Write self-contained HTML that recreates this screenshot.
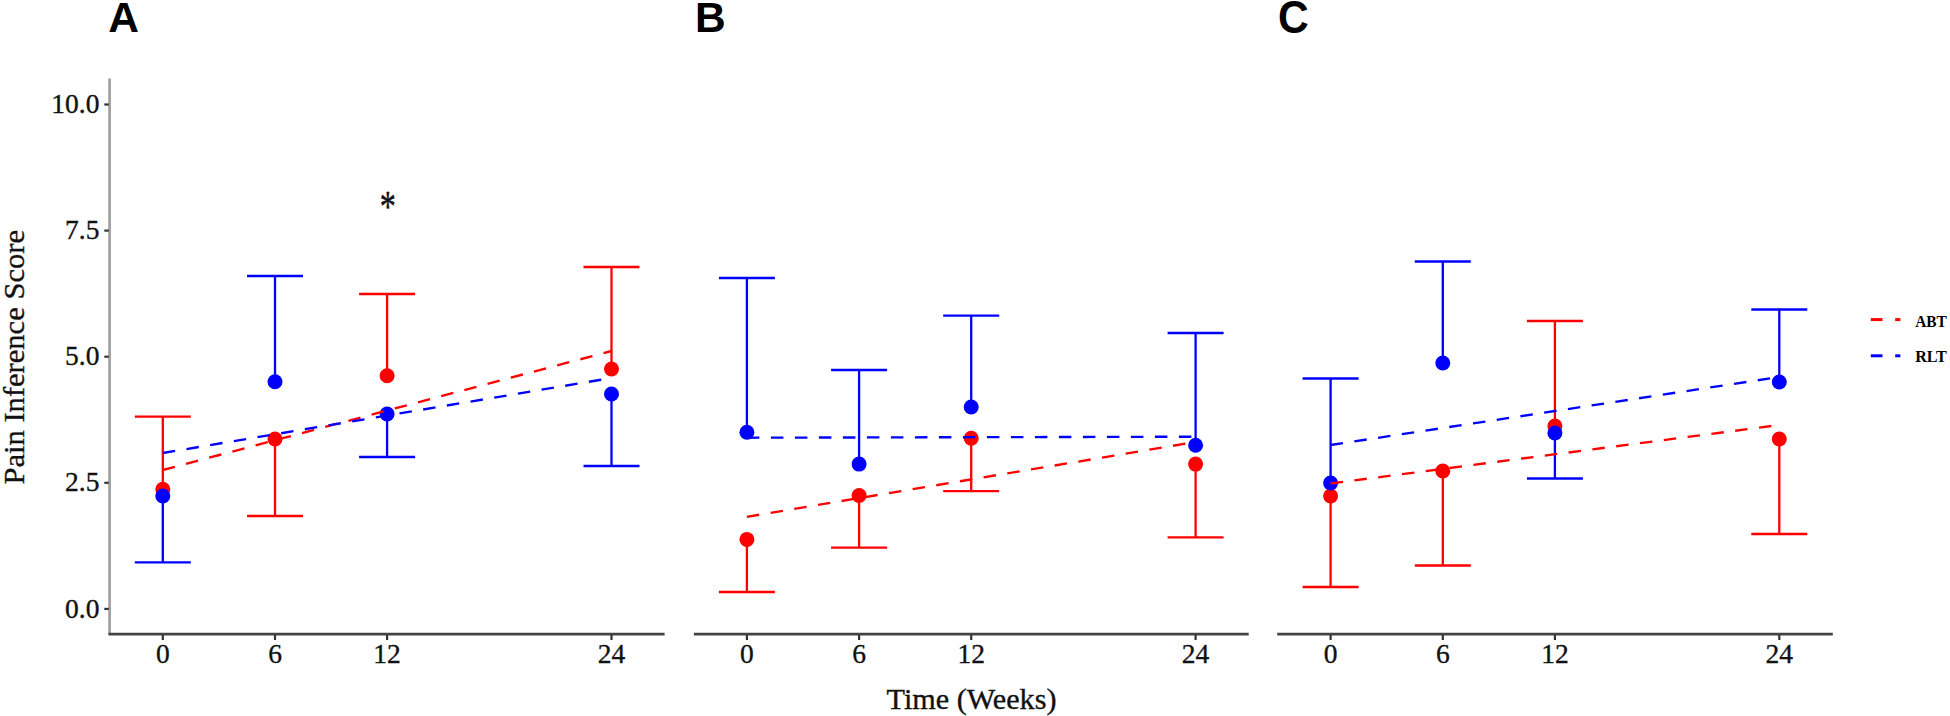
<!DOCTYPE html>
<html lang="en"><head><meta charset="utf-8"><title>Pain Inference Score</title>
<style>
html,body{margin:0;padding:0;background:#fff;}
body{width:1950px;height:716px;overflow:hidden;}
svg{display:block;}
.tk{font-family:"Liberation Serif",serif;font-size:27.5px;fill:#111;stroke:#111;stroke-width:0.35px;}
.lab{font-family:"Liberation Serif",serif;font-size:29.4px;fill:#111;stroke:#111;stroke-width:0.35px;}
.ast{font-family:"Liberation Serif",serif;font-size:31px;fill:#111;stroke:#111;stroke-width:0.35px;}
.ttl{font-family:"Liberation Sans",sans-serif;font-weight:bold;font-size:42.5px;fill:#000;}
.leg{font-family:"Liberation Serif",serif;font-weight:bold;font-size:17.6px;fill:#000;}
</style></head><body>
<svg width="1950" height="716" viewBox="0 0 1950 716">
<rect width="1950" height="716" fill="#fff"/>
<line x1="109.6" y1="78.6" x2="109.6" y2="635" stroke="#a2a2a2" stroke-width="2.8"/>
<line x1="104.3" y1="608.9" x2="108.8" y2="608.9" stroke="#333" stroke-width="2.2"/>
<text x="99.4" y="617.5" text-anchor="end" class="tk">0.0</text>
<line x1="104.3" y1="482.8" x2="108.8" y2="482.8" stroke="#333" stroke-width="2.2"/>
<text x="99.4" y="491.4" text-anchor="end" class="tk">2.5</text>
<line x1="104.3" y1="356.7" x2="108.8" y2="356.7" stroke="#333" stroke-width="2.2"/>
<text x="99.4" y="365.3" text-anchor="end" class="tk">5.0</text>
<line x1="104.3" y1="230.6" x2="108.8" y2="230.6" stroke="#333" stroke-width="2.2"/>
<text x="99.4" y="239.2" text-anchor="end" class="tk">7.5</text>
<line x1="104.3" y1="104.5" x2="108.8" y2="104.5" stroke="#333" stroke-width="2.2"/>
<text x="99.4" y="113.1" text-anchor="end" class="tk">10.0</text>
<line x1="108.5" y1="634.1" x2="664.6" y2="634.1" stroke="#444" stroke-width="2.6"/>
<line x1="162.8" y1="635" x2="162.8" y2="640" stroke="#333" stroke-width="2.2"/>
<text x="162.8" y="662.8" text-anchor="middle" class="tk">0</text>
<line x1="275.0" y1="635" x2="275.0" y2="640" stroke="#333" stroke-width="2.2"/>
<text x="275.0" y="662.8" text-anchor="middle" class="tk">6</text>
<line x1="387.1" y1="635" x2="387.1" y2="640" stroke="#333" stroke-width="2.2"/>
<text x="387.1" y="662.8" text-anchor="middle" class="tk">12</text>
<line x1="611.5" y1="635" x2="611.5" y2="640" stroke="#333" stroke-width="2.2"/>
<text x="611.5" y="662.8" text-anchor="middle" class="tk">24</text>
<text x="108.2" y="31.6" class="ttl">A</text>
<line x1="162.8" y1="489.2" x2="162.8" y2="416.7" stroke="#ff0000" stroke-width="2.3"/>
<line x1="134.8" y1="416.7" x2="190.8" y2="416.7" stroke="#ff0000" stroke-width="2.3"/>
<line x1="275.0" y1="439" x2="275.0" y2="516" stroke="#ff0000" stroke-width="2.3"/>
<line x1="247.0" y1="516" x2="303.0" y2="516" stroke="#ff0000" stroke-width="2.3"/>
<line x1="387.1" y1="375.8" x2="387.1" y2="294" stroke="#ff0000" stroke-width="2.3"/>
<line x1="359.1" y1="294" x2="415.1" y2="294" stroke="#ff0000" stroke-width="2.3"/>
<line x1="611.5" y1="369" x2="611.5" y2="267" stroke="#ff0000" stroke-width="2.3"/>
<line x1="583.5" y1="267" x2="639.5" y2="267" stroke="#ff0000" stroke-width="2.3"/>
<line x1="162.8" y1="496" x2="162.8" y2="562.3" stroke="#0000ff" stroke-width="2.3"/>
<line x1="134.8" y1="562.3" x2="190.8" y2="562.3" stroke="#0000ff" stroke-width="2.3"/>
<line x1="275.0" y1="381.8" x2="275.0" y2="276" stroke="#0000ff" stroke-width="2.3"/>
<line x1="247.0" y1="276" x2="303.0" y2="276" stroke="#0000ff" stroke-width="2.3"/>
<line x1="387.1" y1="414" x2="387.1" y2="457" stroke="#0000ff" stroke-width="2.3"/>
<line x1="359.1" y1="457" x2="415.1" y2="457" stroke="#0000ff" stroke-width="2.3"/>
<line x1="611.5" y1="394" x2="611.5" y2="466" stroke="#0000ff" stroke-width="2.3"/>
<line x1="583.5" y1="466" x2="639.5" y2="466" stroke="#0000ff" stroke-width="2.3"/>
<circle cx="162.8" cy="489.2" r="7.5" fill="#ff0000"/>
<circle cx="275.0" cy="439" r="7.5" fill="#ff0000"/>
<circle cx="387.1" cy="375.8" r="7.5" fill="#ff0000"/>
<circle cx="611.5" cy="369" r="7.5" fill="#ff0000"/>
<circle cx="162.8" cy="496" r="7.5" fill="#0000ff"/>
<circle cx="275.0" cy="381.8" r="7.5" fill="#0000ff"/>
<circle cx="387.1" cy="414" r="7.5" fill="#0000ff"/>
<circle cx="611.5" cy="394" r="7.5" fill="#0000ff"/>
<line x1="162.8" y1="470" x2="611.5" y2="351" stroke="#ff0000" stroke-width="2.35" stroke-dasharray="12.5 11.5"/>
<line x1="162.8" y1="453" x2="611.5" y2="378" stroke="#0000ff" stroke-width="2.35" stroke-dasharray="12.5 11.5"/>
<line x1="693.9" y1="634.1" x2="1248.7" y2="634.1" stroke="#444" stroke-width="2.6"/>
<line x1="746.9" y1="635" x2="746.9" y2="640" stroke="#333" stroke-width="2.2"/>
<text x="746.9" y="662.8" text-anchor="middle" class="tk">0</text>
<line x1="859.1" y1="635" x2="859.1" y2="640" stroke="#333" stroke-width="2.2"/>
<text x="859.1" y="662.8" text-anchor="middle" class="tk">6</text>
<line x1="971.2" y1="635" x2="971.2" y2="640" stroke="#333" stroke-width="2.2"/>
<text x="971.2" y="662.8" text-anchor="middle" class="tk">12</text>
<line x1="1195.6" y1="635" x2="1195.6" y2="640" stroke="#333" stroke-width="2.2"/>
<text x="1195.6" y="662.8" text-anchor="middle" class="tk">24</text>
<text x="695.1" y="31.6" class="ttl">B</text>
<line x1="746.9" y1="539.4" x2="746.9" y2="592" stroke="#ff0000" stroke-width="2.3"/>
<line x1="718.9" y1="592" x2="774.9" y2="592" stroke="#ff0000" stroke-width="2.3"/>
<line x1="859.1" y1="495.5" x2="859.1" y2="547.7" stroke="#ff0000" stroke-width="2.3"/>
<line x1="831.1" y1="547.7" x2="887.1" y2="547.7" stroke="#ff0000" stroke-width="2.3"/>
<line x1="971.2" y1="438.2" x2="971.2" y2="491.2" stroke="#ff0000" stroke-width="2.3"/>
<line x1="943.2" y1="491.2" x2="999.2" y2="491.2" stroke="#ff0000" stroke-width="2.3"/>
<line x1="1195.6" y1="464.1" x2="1195.6" y2="537.4" stroke="#ff0000" stroke-width="2.3"/>
<line x1="1167.6" y1="537.4" x2="1223.6" y2="537.4" stroke="#ff0000" stroke-width="2.3"/>
<line x1="746.9" y1="432.2" x2="746.9" y2="278" stroke="#0000ff" stroke-width="2.3"/>
<line x1="718.9" y1="278" x2="774.9" y2="278" stroke="#0000ff" stroke-width="2.3"/>
<line x1="859.1" y1="464.1" x2="859.1" y2="370" stroke="#0000ff" stroke-width="2.3"/>
<line x1="831.1" y1="370" x2="887.1" y2="370" stroke="#0000ff" stroke-width="2.3"/>
<line x1="971.2" y1="407" x2="971.2" y2="315.6" stroke="#0000ff" stroke-width="2.3"/>
<line x1="943.2" y1="315.6" x2="999.2" y2="315.6" stroke="#0000ff" stroke-width="2.3"/>
<line x1="1195.6" y1="445.2" x2="1195.6" y2="333" stroke="#0000ff" stroke-width="2.3"/>
<line x1="1167.6" y1="333" x2="1223.6" y2="333" stroke="#0000ff" stroke-width="2.3"/>
<circle cx="746.9" cy="539.4" r="7.5" fill="#ff0000"/>
<circle cx="859.1" cy="495.5" r="7.5" fill="#ff0000"/>
<circle cx="971.2" cy="438.2" r="7.5" fill="#ff0000"/>
<circle cx="1195.6" cy="464.1" r="7.5" fill="#ff0000"/>
<circle cx="746.9" cy="432.2" r="7.5" fill="#0000ff"/>
<circle cx="859.1" cy="464.1" r="7.5" fill="#0000ff"/>
<circle cx="971.2" cy="407" r="7.5" fill="#0000ff"/>
<circle cx="1195.6" cy="445.2" r="7.5" fill="#0000ff"/>
<line x1="746.9" y1="516.8" x2="1195.6" y2="442" stroke="#ff0000" stroke-width="2.35" stroke-dasharray="12.5 11.5"/>
<line x1="746.9" y1="437.7" x2="1195.6" y2="436.7" stroke="#0000ff" stroke-width="2.35" stroke-dasharray="12.5 11.5"/>
<line x1="1277.2" y1="634.1" x2="1832.8" y2="634.1" stroke="#444" stroke-width="2.6"/>
<line x1="1330.6" y1="635" x2="1330.6" y2="640" stroke="#333" stroke-width="2.2"/>
<text x="1330.6" y="662.8" text-anchor="middle" class="tk">0</text>
<line x1="1442.8" y1="635" x2="1442.8" y2="640" stroke="#333" stroke-width="2.2"/>
<text x="1442.8" y="662.8" text-anchor="middle" class="tk">6</text>
<line x1="1554.9" y1="635" x2="1554.9" y2="640" stroke="#333" stroke-width="2.2"/>
<text x="1554.9" y="662.8" text-anchor="middle" class="tk">12</text>
<line x1="1779.3" y1="635" x2="1779.3" y2="640" stroke="#333" stroke-width="2.2"/>
<text x="1779.3" y="662.8" text-anchor="middle" class="tk">24</text>
<text transform="translate(1278.1,33.1) scale(1,1.09)" x="0" y="0" class="ttl">C</text>
<line x1="1330.6" y1="496" x2="1330.6" y2="587" stroke="#ff0000" stroke-width="2.3"/>
<line x1="1302.6" y1="587" x2="1358.6" y2="587" stroke="#ff0000" stroke-width="2.3"/>
<line x1="1442.8" y1="471" x2="1442.8" y2="565.5" stroke="#ff0000" stroke-width="2.3"/>
<line x1="1414.8" y1="565.5" x2="1470.8" y2="565.5" stroke="#ff0000" stroke-width="2.3"/>
<line x1="1554.9" y1="426" x2="1554.9" y2="321" stroke="#ff0000" stroke-width="2.3"/>
<line x1="1526.9" y1="321" x2="1582.9" y2="321" stroke="#ff0000" stroke-width="2.3"/>
<line x1="1779.3" y1="439" x2="1779.3" y2="534" stroke="#ff0000" stroke-width="2.3"/>
<line x1="1751.3" y1="534" x2="1807.3" y2="534" stroke="#ff0000" stroke-width="2.3"/>
<line x1="1330.6" y1="483" x2="1330.6" y2="378.5" stroke="#0000ff" stroke-width="2.3"/>
<line x1="1302.6" y1="378.5" x2="1358.6" y2="378.5" stroke="#0000ff" stroke-width="2.3"/>
<line x1="1442.8" y1="363" x2="1442.8" y2="261.5" stroke="#0000ff" stroke-width="2.3"/>
<line x1="1414.8" y1="261.5" x2="1470.8" y2="261.5" stroke="#0000ff" stroke-width="2.3"/>
<line x1="1554.9" y1="433" x2="1554.9" y2="478.5" stroke="#0000ff" stroke-width="2.3"/>
<line x1="1526.9" y1="478.5" x2="1582.9" y2="478.5" stroke="#0000ff" stroke-width="2.3"/>
<line x1="1779.3" y1="382" x2="1779.3" y2="309.5" stroke="#0000ff" stroke-width="2.3"/>
<line x1="1751.3" y1="309.5" x2="1807.3" y2="309.5" stroke="#0000ff" stroke-width="2.3"/>
<circle cx="1330.6" cy="496" r="7.5" fill="#ff0000"/>
<circle cx="1442.8" cy="471" r="7.5" fill="#ff0000"/>
<circle cx="1554.9" cy="426" r="7.5" fill="#ff0000"/>
<circle cx="1779.3" cy="439" r="7.5" fill="#ff0000"/>
<circle cx="1330.6" cy="483" r="7.5" fill="#0000ff"/>
<circle cx="1442.8" cy="363" r="7.5" fill="#0000ff"/>
<circle cx="1554.9" cy="433" r="7.5" fill="#0000ff"/>
<circle cx="1779.3" cy="382" r="7.5" fill="#0000ff"/>
<line x1="1330.6" y1="483.5" x2="1779.3" y2="425" stroke="#ff0000" stroke-width="2.35" stroke-dasharray="12.5 11.5"/>
<line x1="1330.6" y1="445" x2="1779.3" y2="377" stroke="#0000ff" stroke-width="2.35" stroke-dasharray="12.5 11.5"/>
<text transform="translate(387.8,198.5) scale(1.04,1.46)" x="0" y="15.2" text-anchor="middle" class="ast">*</text>
<text x="971.5" y="708.8" text-anchor="middle" class="lab" textLength="170" lengthAdjust="spacingAndGlyphs">Time (Weeks)</text>
<text transform="translate(24.4,357.3) rotate(-90)" text-anchor="middle" class="lab" textLength="254.5" lengthAdjust="spacingAndGlyphs">Pain Inference Score</text>
<line x1="1870.8" y1="319.6" x2="1882.5" y2="319.6" stroke="#ff0000" stroke-width="3"/>
<line x1="1895.2" y1="319.6" x2="1900.4" y2="319.6" stroke="#ff0000" stroke-width="3"/>
<text x="1915.2" y="326.6" class="leg" textLength="31.6" lengthAdjust="spacingAndGlyphs">ABT</text>
<line x1="1870.8" y1="355.8" x2="1882.5" y2="355.8" stroke="#0000ff" stroke-width="3"/>
<line x1="1895.2" y1="355.8" x2="1900.4" y2="355.8" stroke="#0000ff" stroke-width="3"/>
<text x="1915.2" y="361.9" class="leg" textLength="31.6" lengthAdjust="spacingAndGlyphs">RLT</text>
</svg>
</body></html>
